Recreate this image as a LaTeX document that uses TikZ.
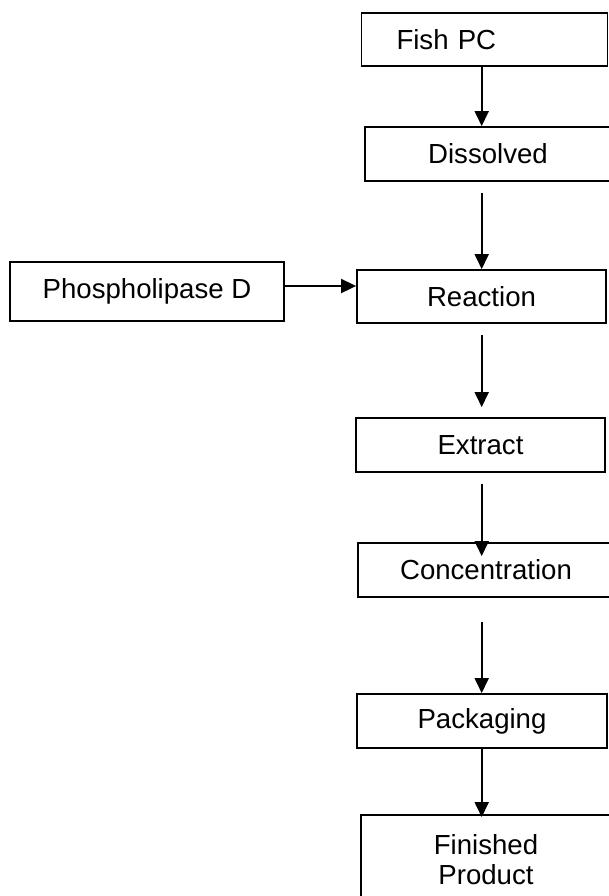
\documentclass[tikz,border=0pt]{standalone}
\usepackage{fontspec}
\setmainfont{Liberation Sans}
\usepackage{tikz}
\usetikzlibrary{arrows.meta, calc, positioning}
\tikzset{
  %process box style
  stage/.style={
    draw
    , fill=white
    , line width=0.9pt
    , anchor=center
    , text centered
    , inner sep=0pt
    , font=\fontsize{13.8}{15}\selectfont
  },
}

\begin{document}
\begin{tikzpicture}[x=0.5pt,y=-0.5pt]
  \tikzstyle{flow}=[-{Triangle[length=7.5pt,width=7pt]}, line width=0.9pt]
  \tikzstyle{wide}=[stage, minimum height=27pt]
  \useasboundingbox (0,0) rectangle (609,896);
  \fill[white] (0,0) rectangle (609,896);
  \clip (0,0) rectangle (609,896);
  % arrow column
  \coordinate (col) at (481.7,0);
%
  \node [wide, align=left, text width=88pt, inner xsep=17.5pt,
         minimum height=26.5pt] (fish-pc) at (484.5,39.5) {Fish PC};
  \node [wide, minimum width=123pt] (dissolved) at (488,154) {Dissolved};
  \node [wide, minimum width=137pt, minimum height=29.5pt] (phos-d) at (147,291.5) {Phospholipase D};
  \node [wide, minimum width=124.5pt, minimum height=26.5pt] (react) at (481.5,296.5) {Reaction};
  \node [wide, minimum width=124.5pt] (extr) at (480.5,445) {Extract};
  \node [wide, minimum width=128pt] (conc) at (486,570) {Concentration};
  \node [wide, minimum width=125pt] (pack) at (482,721) {Packaging};
  \node [wide, align=center, minimum width=125pt, minimum height=45pt] (fin-prod) at (486,860) {Finished\\Product};
%
  \draw [flow] (fish-pc.south -| col) -- (dissolved.north -| col);
  \draw [flow] ($(dissolved.south -| col)+(0,11)$) -- (react.north -| col);
  \draw [flow] ($(react.south -| col)+(0,11)$) -- ($(extr.north -| col)+(0,-10)$);
  \draw [flow] ($(extr.south -| col)+(0,11)$) -- ($(conc.north -| col)+(0,14)$);
  \draw [flow] ($(conc.south -| col)+(0,24)$) -- (pack.north -| col);
  \draw [flow] (pack.south -| col) -- ($(fin-prod.north -| col)+(0,3)$);

  \coordinate (enz) at ($(phos-d.east)+(0,-5.5)$);
  \draw [flow] (enz) -- (enz -| react.west);

\end{tikzpicture}
\end{document}
